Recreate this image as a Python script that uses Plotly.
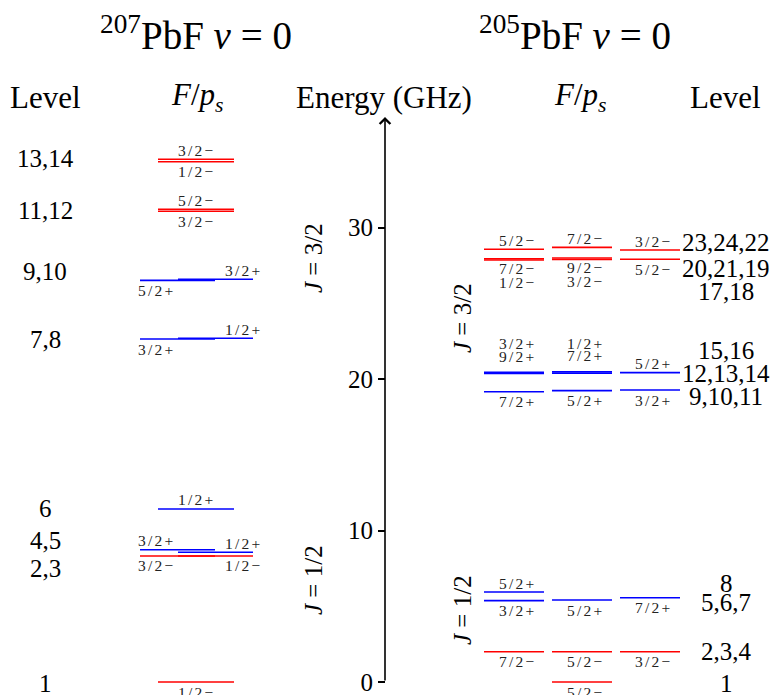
import plotly.graph_objects as go

# ---------------- data ----------------
# 207PbF v=0 hyperfine levels (GHz), F/p_s labels, sub-column
e207 = [0.00, 8.32, 8.32, 8.56, 8.73, 11.42, 22.64, 22.69, 26.51, 26.58, 31.07, 31.20, 34.34, 34.50]
f207 = ["1/2−", "3/2−", "1/2−", "1/2+", "3/2+", "1/2+", "3/2+", "1/2+", "5/2+", "3/2+", "3/2−", "5/2−", "1/2−", "3/2−"]
col207 = ["C", "L", "R", "R", "L", "C", "L", "R", "L", "R", "C", "C", "C", "C"]
side207 = ["below", "below", "below", "above", "above", "above", "below", "above", "below", "above", "below", "above", "below", "above"]
groups207 = [("1", [1]), ("2,3", [2, 3]), ("4,5", [4, 5]), ("6", [6]), ("7,8", [7, 8]),
             ("9,10", [9, 10]), ("11,12", [11, 12]), ("13,14", [13, 14])]

# 205PbF v=0 hyperfine levels (GHz)
e205 = [0.00, 2.00, 2.00, 2.00, 5.37, 5.41, 5.56, 5.94, 19.16, 19.23, 19.27, 20.36, 20.38, 20.42,
        20.45, 20.47, 27.85, 27.89, 27.90, 27.94, 27.99, 28.51, 28.56, 28.69]
f205 = ["5/2−", "7/2−", "5/2−", "3/2−", "3/2+", "5/2+", "7/2+", "5/2+", "7/2+", "5/2+", "3/2+", "9/2+",
        "7/2+", "5/2+", "3/2+", "1/2+", "1/2−", "3/2−", "5/2−", "7/2−", "9/2−", "3/2−", "5/2−", "7/2−"]
col205 = [2, 1, 2, 3, 1, 2, 3, 1, 1, 2, 3, 1, 2, 3, 1, 2, 1, 2, 3, 1, 2, 3, 1, 2]
side205 = ["below", "below", "below", "below", "below", "below", "below", "above", "below", "below", "below",
           "above", "above", "above", "above", "above", "below", "below", "below", "below", "below",
           "above", "above", "above"]
groups205 = [("1", [1]), ("2,3,4", [2, 3, 4]), ("5,6,7", [5, 6, 7]), ("8", [8]), ("9,10,11", [9, 10, 11]),
             ("12,13,14", [12, 13, 14]), ("15,16", [15, 16]), ("17,18", [17, 18]),
             ("20,21,19", [19, 20, 21]), ("23,24,22", [22, 23, 24])]

tick_vals = [0, 10, 20, 30]

# ---------------- layout constants ----------------
W, H = 773, 695
PX_PER_GHZ = 15.15
ZERO_PX = 682            # pixel row of E = 0
YMIN = -(H - ZERO_PX) / PX_PER_GHZ
YMAX = YMIN + H / PX_PER_GHZ
AXIS_X = 385
AXIS_TOP = 37.3

RED = "#ff0000"
BLUE = "#0000ff"
SERIF = "Liberation Serif, Times New Roman, serif"

seg207 = {"L": (140, 215), "R": (178, 253), "C": (158, 234)}
lab207 = {"L": (136, "left"), "R": (264, "right"), "C": (196, "center")}
seg205 = {1: (484, 544), 2: (552, 612), 3: (620, 680)}

# label stacking rank (1 = nearest to line)
rank205 = {17: 2, 18: 2, 15: 2.6, 16: 2.6, 12: 1.7, 13: 1.7}
nudge207 = {"1": -1, "2,3": -13, "4,5": 11, "6": 0, "7,8": -1, "9,10": 8, "11,12": 0, "13,14": 2}
nudge205 = {"1": -1, "2,3,4": 0, "5,6,7": -3, "8": 9, "9,10,11": -6, "12,13,14": 0,
            "15,16": 22, "17,18": -32, "20,21,19": -10, "23,24,22": 6}

fig = go.Figure()
ann = []


def color_of(f):
    return BLUE if f.endswith("+") else RED


def fmt(f):
    return '<span style="letter-spacing:2.2px">' + f + "</span>"


# draw levels, grouped by colour
for color in (RED, BLUE):
    xs, ys = [], []
    for e, f, c in zip(e207, f207, col207):
        if color_of(f) != color:
            continue
        x0, x1 = seg207[c]
        xs += [x0, x1, None]
        ys += [e, e, None]
    for e, f, c in zip(e205, f205, col205):
        if color_of(f) != color:
            continue
        x0, x1 = seg205[c]
        xs += [x0, x1, None]
        ys += [e, e, None]
    fig.add_trace(go.Scatter(x=xs, y=ys, mode="lines", line=dict(color=color, width=1.6),
                             hoverinfo="skip", showlegend=False))

FSZ = 15.5
ABOVE, BELOW, STEP = 9, 10, 12
FCOL = "#222"

for i, (e, f, c, s) in enumerate(zip(e207, f207, col207, side207)):
    x, anchor = lab207[c]
    shift = ABOVE if s == "above" else -BELOW
    ann.append(dict(x=x, y=e, text=fmt(f), showarrow=False, xanchor=anchor, yanchor="middle",
                    yshift=shift, font=dict(family=SERIF, size=FSZ, color=FCOL)))

for i, (e, f, c, s) in enumerate(zip(e205, f205, col205, side205)):
    lvl = i + 1
    x0, x1 = seg205[c]
    r = rank205.get(lvl, 1)
    base = ABOVE if s == "above" else BELOW
    shift = base + STEP * (r - 1)
    shift = shift if s == "above" else -shift
    ann.append(dict(x=(x0 + x1) / 2 + 3, y=e, text=fmt(f), showarrow=False, xanchor="center", yanchor="middle",
                    yshift=shift, font=dict(family=SERIF, size=FSZ, color=FCOL)))

# level-number labels
LSZ = 25
for txt, ids in groups207:
    ey = sum(e207[k - 1] for k in ids) / len(ids)
    ann.append(dict(x=45, y=ey, text=txt, showarrow=False, xanchor="center", yanchor="middle",
                    yshift=nudge207[txt], font=dict(family=SERIF, size=LSZ, color="black")))
for txt, ids in groups205:
    ey = sum(e205[k - 1] for k in ids) / len(ids)
    ann.append(dict(x=726, y=ey, text=txt, showarrow=False, xanchor="center", yanchor="middle",
                    yshift=nudge205[txt], font=dict(family=SERIF, size=LSZ, color="black")))


def py(px):
    return 1 - px / H


# titles and headers
TSZ = 39
ann.append(dict(x=196, y=py(33), xref="x", yref="paper", text="<sup>207</sup>PbF <i>v</i> = 0",
                showarrow=False, xanchor="center", yanchor="middle",
                font=dict(family=SERIF, size=TSZ, color="black")))
ann.append(dict(x=575, y=py(33), xref="x", yref="paper", text="<sup>205</sup>PbF <i>v</i> = 0",
                showarrow=False, xanchor="center", yanchor="middle",
                font=dict(family=SERIF, size=TSZ, color="black")))
HSZ = 31
for x, t in [(45, "Level"), (197, "<i>F</i>/<i>p<sub>s</sub></i>"), (384, "Energy (GHz)"),
             (580, "<i>F</i>/<i>p<sub>s</sub></i>"), (725, "Level")]:
    ann.append(dict(x=x, y=py(97), xref="x", yref="paper", text=t, showarrow=False,
                    xanchor="center", yanchor="middle",
                    font=dict(family=SERIF, size=HSZ, color="black")))

# J labels (rotated)
JSZ = 25
for x, ypx, t in [(313, 258, "<i>J</i> = 3/2"), (313, 580, "<i>J</i> = 1/2"),
                  (462, 318, "<i>J</i> = 3/2"), (462, 610, "<i>J</i> = 1/2")]:
    ann.append(dict(x=x, y=py(ypx), xref="x", yref="paper", text=t, showarrow=False, textangle=-90,
                    xanchor="center", yanchor="middle",
                    font=dict(family=SERIF, size=JSZ, color="black")))

# energy axis line with arrow
ann.append(dict(x=AXIS_X, y=AXIS_TOP, ax=AXIS_X, ay=0, xref="x", yref="y", axref="x", ayref="y",
                text="", showarrow=True, arrowhead=4, arrowsize=1.3, arrowwidth=1.6, arrowcolor="black",
                standoff=0, startstandoff=0))

fig.update_layout(
    width=W, height=H, margin=dict(l=0, r=0, t=0, b=0),
    paper_bgcolor="white", plot_bgcolor="white",
    xaxis=dict(range=[0, W], visible=False, fixedrange=True),
    yaxis=dict(range=[YMIN, YMAX], anchor="free", position=AXIS_X / W, side="left",
               tickvals=tick_vals, ticktext=[str(v) for v in tick_vals],
               ticks="outside", ticklen=7, tickwidth=1.5, tickcolor="black",
               showline=False, showgrid=False, zeroline=False, ticklabeloverflow="allow",
               tickfont=dict(family=SERIF, size=25, color="black")),
    annotations=ann,
    showlegend=False,
)

fig.write_html("out.html")
